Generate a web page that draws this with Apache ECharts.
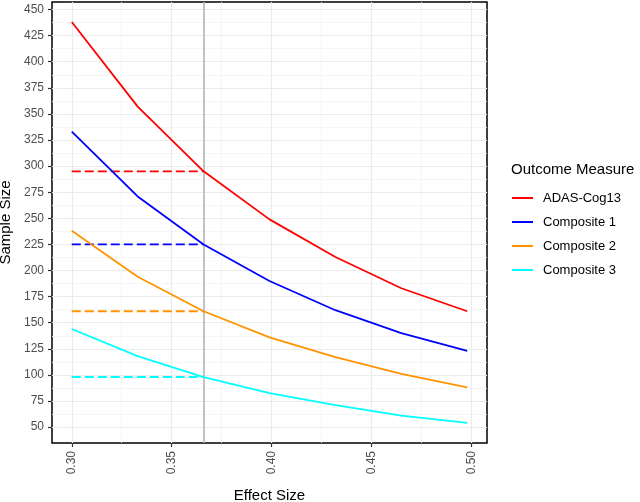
<!DOCTYPE html>
<html>
<head>
<meta charset="utf-8">
<script src="https://cdn.jsdelivr.net/npm/echarts@6/dist/echarts.min.js"></script>
<style>
  html, body { margin: 0; padding: 0; background: #fff; }
  #chart { width: 640px; height: 502px; }
</style>
</head>
<body>
<div id="chart"></div>
<script>
// effect sizes on the x axis
const effectSizes = [0.300, 0.333, 0.366, 0.399, 0.432, 0.465, 0.498];
const seriesNames = ['ADAS-Cog13', 'Composite 1', 'Composite 2', 'Composite 3'];
const adasCog13 = [438, 357, 295, 249, 213, 183, 161];
const composite1 = [333, 271, 225, 190, 162, 140, 123];
const composite2 = [238, 194, 161, 136, 117, 101, 88];
const composite3 = [144, 118, 98, 82.5, 71, 61, 54];
const colors = ['#FF0000', '#0000FF', '#FF9400', '#00FFFF'];
// chosen effect size (vertical reference line)
const chosenEffect = 0.366;
const xTicks = [0.30, 0.35, 0.40, 0.45, 0.50];
const xMinor = [0.325, 0.375, 0.425, 0.475];
const yTicks = [50, 75, 100, 125, 150, 175, 200, 225, 250, 275, 300, 325, 350, 375, 400, 425, 450];
const yMinor = [62.5, 87.5, 112.5, 137.5, 162.5, 187.5, 212.5, 237.5, 262.5, 287.5, 312.5, 337.5, 362.5, 387.5, 412.5, 437.5];

const allValues = [adasCog13, composite1, composite2, composite3];
const FONT = '"Liberation Sans", Arial, sans-serif';

let chart = echarts.init(document.getElementById('chart'));

function refLines(name, values, color, width, z) {
  return {
    name: name,
    type: 'line',
    data: [],
    silent: true,
    markLine: {
      silent: true,
      z: z,
      precision: 4, // default 2 would round 0.366 to 0.37
      symbol: 'none',
      label: { show: false },
      animation: false,
      lineStyle: { color: color, width: width, type: 'solid' },
      data: values
    }
  };
}

let series = [];
// minor + major grid lines, then the chosen effect size line
series.push(refLines('gridMinor', xMinor.map(v => ({ xAxis: v })).concat(yMinor.map(v => ({ yAxis: v }))), '#f4f4f4', 0.8, 0));
series.push(refLines('gridMajor', xTicks.map(v => ({ xAxis: v })).concat(yTicks.map(v => ({ yAxis: v }))), '#ebebeb', 1.2, 0));
series.push(refLines('chosen', [{ xAxis: chosenEffect }], '#b3b3b3', 1.6, 1));

seriesNames.forEach((name, i) => {
  const vals = allValues[i];
  series.push({
    name: name,
    type: 'line',
    data: effectSizes.map((x, j) => [x, vals[j]]),
    showSymbol: false,
    symbol: 'none',
    lineStyle: { color: colors[i], width: 1.8 },
    itemStyle: { color: colors[i] },
    z: 3,
    animation: false
  });
  // dashed line from the axis start to the chosen effect size
  const atChosen = vals[effectSizes.indexOf(chosenEffect)];
  series.push({
    name: name + ' ref',
    type: 'line',
    data: [[effectSizes[0], atChosen], [chosenEffect, atChosen]],
    showSymbol: false,
    symbol: 'none',
    lineStyle: { color: colors[i], width: 1.8, type: [9, 4] },
    z: 3,
    animation: false
  });
});

chart.setOption({
  backgroundColor: '#ffffff',
  animation: false,
  title: {
    text: 'Outcome Measure',
    left: 511,
    top: 162,
    padding: 0,
    textStyle: { fontFamily: FONT, fontSize: 15, fontWeight: 'normal', color: '#000' }
  },
  legend: {
    data: seriesNames,
    orient: 'vertical',
    left: 512,
    top: 191,
    padding: 0,
    icon: 'rect',
    itemWidth: 21,
    itemHeight: 2,
    itemGap: 10,
    textStyle: { fontFamily: FONT, fontSize: 13, color: '#000', lineHeight: 14, padding: [0, 0, 0, 5] }
  },
  grid: {
    left: 52,
    right: 153,
    top: 2,
    bottom: 59,
    outerBoundsMode: 'none',
    containLabel: false,
    show: true,
    borderColor: '#000',
    borderWidth: 1.5,
    backgroundColor: '#fff'
  },
  xAxis: {
    type: 'value',
    min: 0.2901,
    max: 0.5079,
    name: 'Effect Size',
    nameLocation: 'middle',
    nameGap: 45,
    nameTextStyle: { fontFamily: FONT, fontSize: 15, color: '#000' },
    axisLine: { show: false },
    axisTick: { show: true, length: 4, customValues: xTicks, lineStyle: { color: '#333', width: 1.2 } },
    axisLabel: {
      customValues: xTicks,
      rotate: 90,
      margin: 8,
      fontFamily: FONT,
      fontSize: 12,
      color: '#4d4d4d',
      formatter: v => v.toFixed(2)
    },
    splitLine: { show: false }
  },
  yAxis: {
    type: 'value',
    min: 34.8,
    max: 457.2,
    name: 'Sample Size',
    nameLocation: 'middle',
    nameGap: 39,
    nameMoveOverlap: false,
    nameRotate: 90,
    nameTextStyle: { fontFamily: FONT, fontSize: 15, color: '#000' },
    axisLine: { show: false },
    axisTick: { show: true, length: 4, customValues: yTicks, lineStyle: { color: '#333', width: 1.2 } },
    axisLabel: {
      customValues: yTicks,
      margin: 8,
      fontFamily: FONT,
      fontSize: 12,
      color: '#4d4d4d'
    },
    splitLine: { show: false }
  },
  series: series
});
</script>
</body>
</html>
